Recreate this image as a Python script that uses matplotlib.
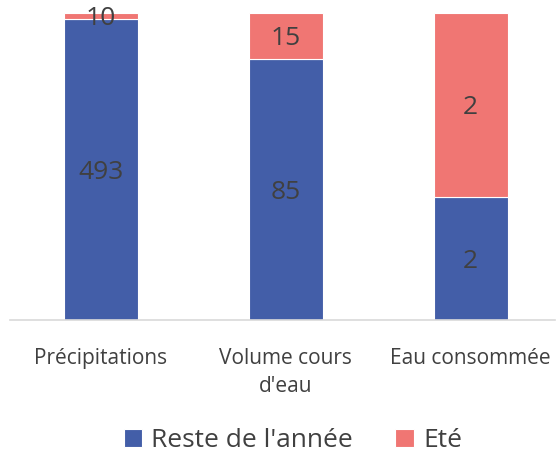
import matplotlib.pyplot as plt
import numpy as np

categories = ["Précipitations", "Volume cours\nd'eau", "Eau consommée"]
reste = [493, 85, 1.6]
ete = [10, 15, 2.4]
series_names = ["Reste de l'année", "Eté"]

blue = "#435EA8"
red = "#F07673"
text_col = "#404040"

plt.rcParams['font.family'] = ['Open Sans', 'DejaVu Sans']

reste = np.array(reste, dtype=float)
ete = np.array(ete, dtype=float)
total = reste + ete
p_reste = reste / total
p_ete = ete / total

fig = plt.figure(figsize=(5.58, 4.59), dpi=100)
ax = fig.add_axes([0.018, 0.303, 0.977, 0.669])

x = np.arange(len(categories))
w = 0.40
b1 = ax.bar(x, p_reste, w, color=blue, edgecolor='white', linewidth=0.8, label=series_names[0])
b2 = ax.bar(x, p_ete, w, bottom=p_reste, color=red, edgecolor='white', linewidth=0.8, label=series_names[1])

for i in range(len(x)):
    ax.text(x[i], p_reste[i] / 2, f"{reste[i]:.0f}", ha='center', va='center_baseline',
            fontsize=19, color=text_col)
    ax.text(x[i], p_reste[i] + p_ete[i] / 2, f"{ete[i]:.0f}", ha='center', va='center_baseline',
            fontsize=19, color=text_col)

ax.set_xlim(-0.49, 2.457)
ax.set_ylim(0, 1)
ax.set_yticks([])
ax.set_xticks(x)
ax.set_xticklabels(categories, fontsize=15, color=text_col, linespacing=1.45)
ax.tick_params(axis='x', length=0, pad=20)
for s in ['top', 'right', 'left']:
    ax.spines[s].set_visible(False)
ax.spines['bottom'].set_color('#D9D9D9')
ax.spines['bottom'].set_linewidth(1.2)

fig.legend(handles=[b1, b2], labels=series_names, loc='center', bbox_to_anchor=(0.525, 0.04),
           ncol=2, frameon=False, fontsize=19, labelcolor=text_col, borderpad=0.2,
           handlelength=0.7, handleheight=0.7, handletextpad=0.35, columnspacing=1.6)

fig.savefig('out.png', dpi=100)
